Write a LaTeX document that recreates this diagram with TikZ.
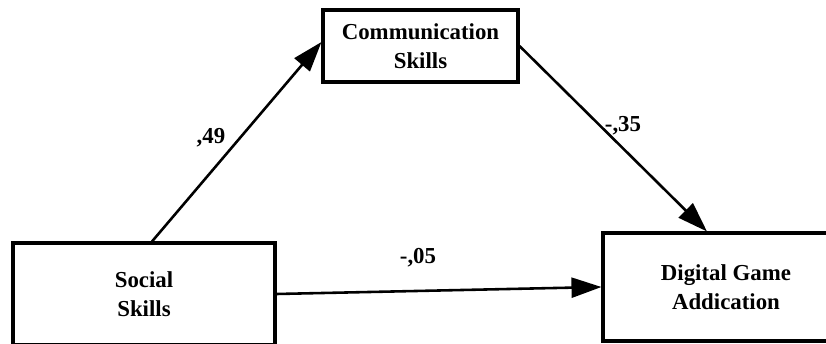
\documentclass[tikz,border=0pt]{standalone}
\usepackage{fontspec}
\setmainfont{Liberation Serif}
\usetikzlibrary{arrows.meta}

\begin{document}
\begin{tikzpicture}[x=0.03cm, y=-0.03cm,
    box/.style={draw, line width=2.6pt, align=center, font=\fontsize{19.5}{25}\selectfont\bfseries, inner sep=0pt},
    path/.style={line width=2.2pt, -{Triangle[length=0.9cm, width=0.6cm]}},
    coef/.style={font=\fontsize{19.5}{25}\selectfont\bfseries}]
    \useasboundingbox (0,0) rectangle (826,344);

    % Variáveis
    \node[box, minimum width=7.86cm, minimum height=3.06cm] (soc) at (144,294) {Social\\Skills};
    \node[box, minimum width=5.85cm, minimum height=2.16cm] (com) at (420.5,46) {Communication\\Skills};
    \node[box, minimum width=7.38cm, minimum height=3.24cm] (dig) at (726,287) {Digital Game\\Addication};

    % Caminhos
    \draw[path] ([xshift=0.24cm]soc.north) -- ([yshift=0.12cm]com.west);
    \draw[path] (com.east) -- ([xshift=-0.57cm]dig.north);
    \draw[path] (soc.east) -- (dig.west);

    \node[coef] (c1) at (211,138) {,49};
    \node[coef] (c2) at (623,126) {-,35};
    \node[coef] (c3) at (418,258) {-,05};
\end{tikzpicture}
\end{document}
